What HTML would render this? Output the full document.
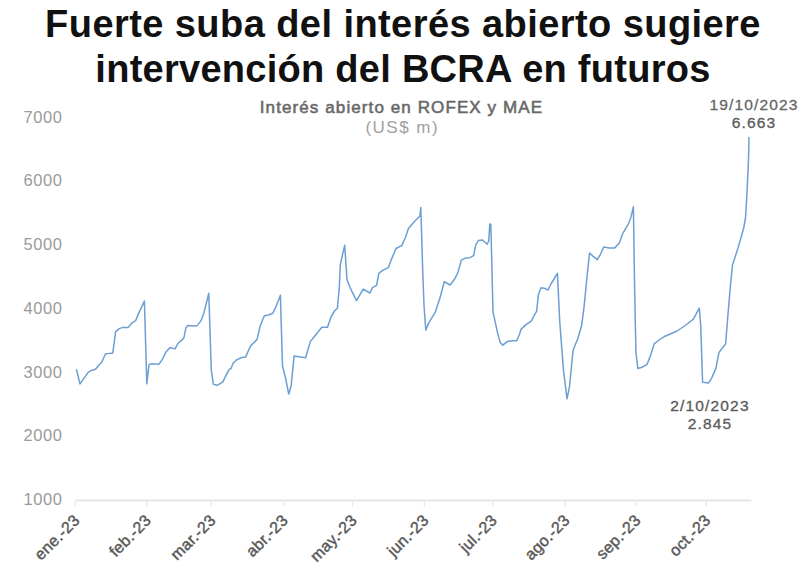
<!DOCTYPE html>
<html><head><meta charset="utf-8">
<style>
html,body{margin:0;padding:0;background:#fff;}
body{width:800px;height:576px;overflow:hidden;position:relative;font-family:"Liberation Sans",Arial,sans-serif;}
.t{position:absolute;left:0;width:806px;margin:0;text-align:center;font-size:38px;font-weight:bold;line-height:44px;color:#111;white-space:nowrap;}
.t1{top:1.9px;letter-spacing:0.43px;}
.t2{top:46.9px;letter-spacing:0.27px;}
svg{position:absolute;left:0;top:0;}
.yl{font-size:16.5px;fill:#9a9a9a;text-anchor:end;letter-spacing:0.6px;}
.xl{font-size:16px;fill:#5a5a5a;text-anchor:end;stroke:#5a5a5a;stroke-width:0.45px;letter-spacing:0.25px;}
.st{font-size:17px;font-weight:normal;fill:#686868;stroke:#686868;stroke-width:0.55px;text-anchor:middle;letter-spacing:1.1px;}
.st2{font-size:17px;fill:#a0a0a0;text-anchor:middle;letter-spacing:1.5px;}
.an{font-size:15.5px;fill:#5a5a5a;text-anchor:middle;letter-spacing:1.15px;stroke:#5a5a5a;stroke-width:0.3px;}
</style></head>
<body>
<div class="t t1">Fuerte suba del interés abierto sugiere</div>
<div class="t t2">intervención del BCRA en futuros</div>
<svg width="800" height="576" viewBox="0 0 800 576">
<text x="401.5" y="113.4" class="st">Interés abierto en ROFEX y MAE</text>
<text x="402.3" y="133.4" class="st2">(US$ m)</text>
<text x="62.5" y="122.7" class="yl">7000</text>
<text x="62.5" y="186.4" class="yl">6000</text>
<text x="62.5" y="250.1" class="yl">5000</text>
<text x="62.5" y="313.8" class="yl">4000</text>
<text x="62.5" y="377.5" class="yl">3000</text>
<text x="62.5" y="441.1" class="yl">2000</text>
<text x="62.5" y="504.8" class="yl">1000</text>
<line x1="75.3" y1="500.5" x2="751.3" y2="500.5" stroke="#e6e6e6" stroke-width="2"/>
<g stroke="#eaeaea" stroke-width="1.5">
<line x1="75.3" y1="500.5" x2="75.3" y2="506.5" />
<line x1="146.7" y1="500.5" x2="146.7" y2="506.5" />
<line x1="211.3" y1="500.5" x2="211.3" y2="506.5" />
<line x1="283.6" y1="500.5" x2="283.6" y2="506.5" />
<line x1="352.6" y1="500.5" x2="352.6" y2="506.5" />
<line x1="424.3" y1="500.5" x2="424.3" y2="506.5" />
<line x1="492.7" y1="500.5" x2="492.7" y2="506.5" />
<line x1="565.4" y1="500.5" x2="565.4" y2="506.5" />
<line x1="636.4" y1="500.5" x2="636.4" y2="506.5" />
<line x1="706.2" y1="500.5" x2="706.2" y2="506.5" />
</g>
<text class="xl" transform="translate(76.8,517.5) rotate(-45)" x="0" y="5.5">ene.-23</text>
<text class="xl" transform="translate(148.2,517.5) rotate(-45)" x="0" y="5.5">feb.-23</text>
<text class="xl" transform="translate(212.8,517.5) rotate(-45)" x="0" y="5.5">mar.-23</text>
<text class="xl" transform="translate(285.1,517.5) rotate(-45)" x="0" y="5.5">abr.-23</text>
<text class="xl" transform="translate(354.1,517.5) rotate(-45)" x="0" y="5.5">may.-23</text>
<text class="xl" transform="translate(425.8,517.5) rotate(-45)" x="0" y="5.5">jun.-23</text>
<text class="xl" transform="translate(494.2,517.5) rotate(-45)" x="0" y="5.5">jul.-23</text>
<text class="xl" transform="translate(566.9,517.5) rotate(-45)" x="0" y="5.5">ago.-23</text>
<text class="xl" transform="translate(637.9,517.5) rotate(-45)" x="0" y="5.5">sep.-23</text>
<text class="xl" transform="translate(707.7,517.5) rotate(-45)" x="0" y="5.5">oct.-23</text>
<polyline points="76.4,369.3 80.0,383.9 88.2,372.4 91.9,370.2 95.5,369.3 99.2,364.7 101.9,362 105.5,353.8 109.2,353.4 112.8,352.9 115.6,331.9 119.2,328.6 122.9,327.4 128.3,327.4 132,322.8 135.6,320.6 139.3,311.9 144.4,301 146.8,383.8 149,364.8 151,363.8 159,364.2 162,359.8 166,351.9 170,347.5 175,348.9 177.9,343.5 180.9,340.9 183.9,337.9 185.9,327.9 187.9,325.5 196.9,325.9 200.9,320.9 203.9,312.9 208.8,293.3 211.25,369.6 213.3,384.2 217.5,385.2 222.7,382.1 225.8,375.8 229,369.6 231,368.5 233.1,363.3 236.25,360.2 241.5,357.5 245.6,357.1 248.75,349.8 250.8,345.6 257.1,339.4 260.2,325.8 264.4,315.8 268.5,315 272.7,313.3 275.8,307.1 280.4,295.2 282.5,366 285.5,377.9 288.75,394.1 291.2,385.5 294.1,355.9 298.9,356.8 305.6,357.8 310.3,341.6 314.2,336.8 321.8,327.2 327.5,327.3 331,317 334.5,311 337.4,308.3 339.3,287.3 340.3,264.4 344.7,245.3 347,279.7 350.8,289.2 356.5,300.7 363.2,289.2 369.9,293 372.7,287.3 376.6,285.4 378.8,273.3 382.6,270.4 388.4,267.6 391.2,259.9 396,248.5 401.7,245.6 405.6,237 408.4,228.4 416.1,219.8 419.9,216 420.8,207.4 422.7,270 424,305.3 425.8,330.1 428.5,323.4 435.3,312.1 439.8,298.5 444.3,281.6 450,285 454.5,279.3 457.9,272.6 461.3,260.1 465.8,257.9 470,257.7 473.6,255.6 475.7,245.2 478.3,240.5 482.5,240 487.2,244.2 488.75,241 489.8,223.9 490.8,224.4 491.7,258.6 493,312.1 497.6,332.9 500.2,342.5 502.8,345.1 507.2,341.6 512.4,340.7 516.7,340.7 519.3,334.7 521,329.4 525.4,325.1 531.5,320.8 534.1,315.6 536.7,311.2 538.4,294.7 541,287.8 545.3,288.6 548,290 551,284 557.4,273.3 559.7,321 563.4,369.6 567,398.8 569.5,386.7 573.1,350.2 578,338 581.6,325.8 584.1,306.4 587.5,272 589.5,253 592.8,256.1 597.3,259.7 600,255.2 603.7,247 609.2,247.9 614.6,247.9 619.2,243.3 622.8,233.3 628.3,224.2 631,216.9 633.4,206.8 634.5,280 635.9,352 637.8,368.4 641.4,367.5 646.9,364.7 650.5,355.6 654.2,343.8 657.8,341 664.2,336.5 668.7,334.7 677,331 685.2,325.5 693.4,319.2 699.3,308.2 700.7,325 702.6,382.2 708.4,383 711.2,379.3 716,367.9 718.9,352.6 721.7,348.8 725.6,344 728,314 730.5,285 732.5,265 738,248 743.7,228 745.5,218 747,193 748.5,160 749,137" fill="none" stroke="#6c9fd2" stroke-width="1.5" stroke-linejoin="round"/>
<text x="754" y="109.9" class="an" style="fill:#666;stroke:#666">19/10/2023</text>
<text x="754" y="128.2" class="an">6.663</text>
<text x="710" y="411.2" class="an">2/10/2023</text>
<text x="710" y="429.2" class="an">2.845</text>
</svg>
</body></html>
